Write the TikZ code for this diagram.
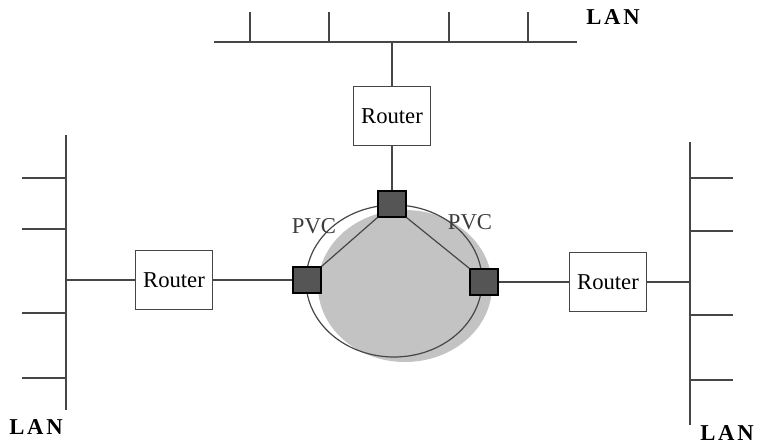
\documentclass[tikz,border=0pt]{standalone}
\usepackage{fontspec}
\setmainfont{Liberation Serif}
\tikzset{every picture/.style={line width=0.9pt}}
\tikzset{
  wire/.style={draw={rgb, 255:red, 70; green, 70; blue, 70 }},
  router/.style={draw={rgb, 255:red, 70; green, 70; blue, 70 }, minimum width=58pt, minimum height=44pt, inner sep=0.75pt, font=\fontsize{17}{20}\selectfont},
  pvcbox/.style={draw, fill={rgb, 255:red, 85; green, 85; blue, 85 }, minimum width=21pt, minimum height=19.5pt, inner sep=0pt},
  lanlabel/.style={inner sep=0.75pt, font=\fontsize{17}{20}\selectfont\bfseries\addfontfeatures{LetterSpace=12}},
  pvclabel/.style={inner sep=0.75pt, text={rgb, 255:red, 60; green, 60; blue, 60 }, font=\fontsize{17}{20}\selectfont}
}

\begin{document}
\begin{tikzpicture}[x=0.75pt,y=0.75pt,yscale=-1,xscale=1]
\useasboundingbox (0,0) rectangle (761,446);

%Shape: Ellipse [id:shade]
\fill [color={rgb, 255:red, 195; green, 195; blue, 195 }]  (405,286) ellipse (87 and 76);
%Shape: Ellipse [id:cloud]
\draw [wire]  (394,281) ellipse (88 and 76);

% Bus coordinates
\coordinate (topbusL) at (214,42);
\coordinate (topbusR) at (577,42);
\coordinate (topbusM) at (392,42);
\coordinate (leftbusT) at (66,135);
\coordinate (leftbusB) at (66,410);
\coordinate (leftbusM) at (66,280);
\coordinate (rightbusT) at (690,142);
\coordinate (rightbusB) at (690,425);
\coordinate (rightbusM) at (690,282);

%Straight Lines [id:topbus]
\draw [wire]  (topbusL) -- (topbusR) ;
\draw [wire]  (250,42) -- (250,12) ;
\draw [wire]  (329,42) -- (329,12) ;
\draw [wire]  (449,42) -- (449,12) ;
\draw [wire]  (528,42) -- (528,12) ;
%Straight Lines [id:leftbus]
\draw [wire]  (leftbusT) -- (leftbusB) ;
\draw [wire]  (66,178) -- (22,178) ;
\draw [wire]  (66,229) -- (22,229) ;
\draw [wire]  (66,313) -- (22,313) ;
\draw [wire]  (66,378) -- (22,378) ;
%Straight Lines [id:rightbus]
\draw [wire]  (rightbusT) -- (rightbusB) ;
\draw [wire]  (690,178) -- (733,178) ;
\draw [wire]  (690,231) -- (733,231) ;
\draw [wire]  (690,315) -- (733,315) ;
\draw [wire]  (690,380) -- (733,380) ;

% Router Nodes
\node [router] (toprouter) at (392,116) {Router};
\node [router] (leftrouter) at (174,280) {Router};
\node [router] (rightrouter) at (608,282) {Router};

%Shape: Square [id:switches]
\node [pvcbox] (topsw) at (392,204) {};
\node [pvcbox] (leftsw) at (307,280) {};
\node [pvcbox] (rightsw) at (484,282) {};

%Straight Lines [id:links]
\draw [wire]  (topbusM) -- (toprouter) ;
\draw [wire]  (toprouter) -- (topsw) ;
\draw [wire]  (leftbusM) -- (leftrouter) ;
\draw [wire]  (leftrouter) -- (leftsw) ;
\draw [wire]  (rightsw) -- (rightrouter) ;
\draw [wire]  (rightrouter) -- (rightbusM) ;
%Straight Lines [id:pvc]
\draw [wire]  (topsw.south west) -- (leftsw.north east) ;
\draw [wire]  (topsw.south east) -- (rightsw.north west) ;

% Text Node
\node [pvclabel] (pvcleft) at (314,226) {PVC};
% Text Node
\node [pvclabel] (pvcright) at (470,222) {PVC};
% Text Node
\node [lanlabel] (lantop) at (613,17) {LAN};
% Text Node
\node [lanlabel] (lanleft) at (36,427) {LAN};
% Text Node
\node [lanlabel] (lanright) at (727,433) {LAN};

\end{tikzpicture}
\end{document}
